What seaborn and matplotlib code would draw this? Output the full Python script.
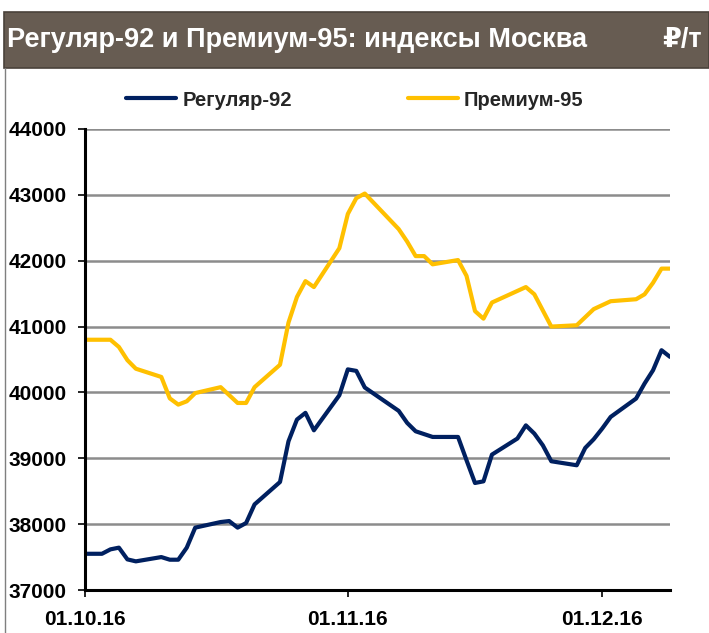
import pandas as pd
import numpy as np
import matplotlib
matplotlib.use("Agg")
import matplotlib.pyplot as plt
import matplotlib.dates as mdates
from matplotlib.lines import Line2D
from matplotlib.patches import Rectangle
import seaborn as sns

# days counted from 01.10.16
reg_days = [0, 2, 3, 4, 5, 6, 9, 10, 11, 12, 13, 16, 17, 18, 19, 20, 23, 24, 25, 26, 27,
            30, 31, 32, 33, 37, 38, 39, 41, 44, 45, 46, 47, 48, 51, 52, 53, 54, 55,
            58, 59, 60, 61, 62, 65, 66, 67, 68, 69]
reg_vals = [37550, 37550, 37617, 37643, 37465, 37435, 37500, 37460, 37460, 37643, 37947,
            38032, 38047, 37947, 38017, 38300, 38640, 39258, 39588, 39690, 39425,
            39957, 40350, 40327, 40075, 39720, 39537, 39410, 39324, 39324, 38970,
            38625, 38650, 39056, 39300, 39500, 39375, 39197, 38955,
            38894, 39157, 39289, 39451, 39628, 39907, 40135, 40337, 40641, 40540]

prem_days = [0, 3, 4, 5, 6, 9, 10, 11, 12, 13, 16, 18, 19, 20, 23, 24, 25, 26, 27,
             30, 31, 32, 33, 37, 38, 39, 40, 41, 44, 45, 46, 47, 48, 52, 53, 55,
             58, 60, 62, 65, 66, 67, 68, 69]
prem_vals = [40800, 40800, 40690, 40490, 40360, 40235, 39910, 39815, 39865, 39990,
             40080, 39840, 39840, 40080, 40420, 41060, 41450, 41690, 41600,
             42190, 42710, 42950, 43020, 42480, 42290, 42070, 42070, 41945, 42010,
             41770, 41235, 41120, 41365, 41600, 41490, 41000,
             41020, 41265, 41385, 41415, 41490, 41665, 41880, 41880]

start = pd.Timestamp("2016-10-01")
reg = pd.DataFrame({"date": start + pd.to_timedelta(reg_days, unit="D"), "val": reg_vals})
prem = pd.DataFrame({"date": start + pd.to_timedelta(prem_days, unit="D"), "val": prem_vals})

title = "Регуляр-92 и Премиум-95: индексы Москва"
unit = "₽/т"
navy = "#002060"
gold = "#FFC000"

sns.set_theme(style="white")
plt.rcParams["font.family"] = ["Liberation Sans", "DejaVu Sans"]

fig = plt.figure(figsize=(7.09, 6.33), dpi=100)
ax = fig.add_axes([85 / 709, 1 - 590 / 633, 585 / 709, 461 / 633])

sns.lineplot(data=reg, x="date", y="val", color=navy, lw=3, ax=ax, label="Регуляр-92")
sns.lineplot(data=prem, x="date", y="val", color=gold, lw=3, ax=ax, label="Премиум-95")

ax.set_ylim(37000, 44000)
ax.set_yticks(range(37000, 44001, 1000))
ax.set_xlim(start, pd.Timestamp("2016-12-09"))
ax.set_xticks([pd.Timestamp("2016-10-01"), pd.Timestamp("2016-11-01"), pd.Timestamp("2016-12-01")])
ax.xaxis.set_major_formatter(mdates.DateFormatter("%d.%m.%y"))
ax.set_xlabel("")
ax.set_ylabel("")

ax.grid(axis="y", color="#8c8c8c", lw=1.8)
ax.set_axisbelow(True)
for s in ["top", "right"]:
    ax.spines[s].set_visible(False)
for s in ["left", "bottom"]:
    ax.spines[s].set_color("black")
    ax.spines[s].set_linewidth(2.2)
ax.tick_params(axis="both", direction="out", length=5, width=1.2, color="black",
               left=True, bottom=True)
ax.tick_params(axis="y", labelsize=15, pad=8)
ax.tick_params(axis="x", labelsize=15, pad=9.5)
for t in ax.get_xticklabels() + ax.get_yticklabels():
    t.set_fontweight("bold")
    t.set_color("black")

leg = ax.legend(loc="center left", bbox_to_anchor=(126 / 709, 1 - 100 / 633),
                bbox_transform=fig.transFigure, ncol=2, frameon=False,
                prop={"weight": "bold", "size": 14.5}, handlelength=2.5,
                handletextpad=0.3, columnspacing=5.75, borderaxespad=0, borderpad=0)

# title bar
fig.patches.append(Rectangle((4 / 709, 1 - 68 / 633), 705 / 709, 56 / 633,
                             transform=fig.transFigure, facecolor="#675C52",
                             edgecolor="#4a423b", lw=1.2, zorder=0))
fig.text(7 / 709, 1 - 40 / 633, title, color="white", fontsize=19.5, fontweight="bold",
         va="center")
fig.text(702 / 709, 1 - 40 / 633, unit, color="white", fontsize=19.5, fontweight="bold",
         va="center", ha="right")
fig.lines.append(Line2D([5 / 709, 5 / 709], [0, 1 - 68 / 633], transform=fig.transFigure,
                        color="#7f7f7f", lw=1))

fig.savefig("out.png", dpi=100)
